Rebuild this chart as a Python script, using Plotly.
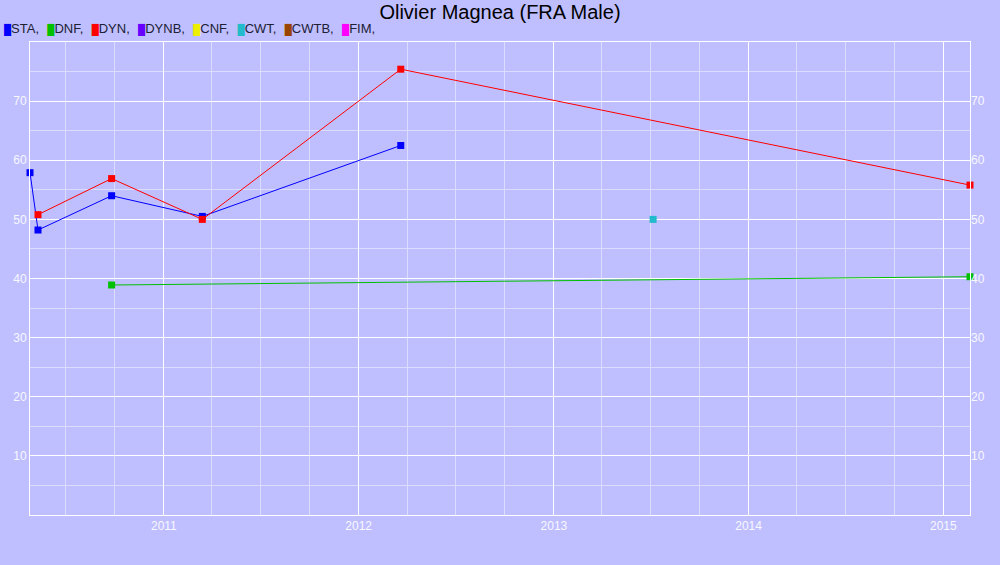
import plotly.graph_objects as go

# Disciplinas del atleta y sus colores
disciplines = ["STA", "DNF", "DYN", "DYNB", "CNF", "CWT", "CWTB", "FIM"]
colors = ["#0000ff", "#00c000", "#ff0000", "#6600ff", "#eeee00", "#22bbcc", "#994400", "#ff00ff"]

sta_dates = ["2010-04-25", "2010-05-10", "2010-09-25", "2011-03-14", "2012-03-20"]
sta_values = [57.9, 48.2, 54.0, 50.5, 62.5]

dnf_dates = ["2010-09-25", "2015-02-20"]
dnf_values = [38.9, 40.3]

dyn_dates = ["2010-05-10", "2010-09-25", "2011-03-14", "2012-03-20", "2015-02-20"]
dyn_values = [50.8, 56.9, 50.0, 75.4, 55.8]

cwt_dates = ["2013-07-06"]
cwt_values = [50.0]

series = {
    "STA": (sta_dates, sta_values),
    "DNF": (dnf_dates, dnf_values),
    "DYN": (dyn_dates, dyn_values),
    "CWT": (cwt_dates, cwt_values),
}

y_ticks = [10, 20, 30, 40, 50, 60, 70]
x_start = "2010-04-25"
x_end = "2015-02-20"

BG = "#bfbfff"
GRID = "#ffffff"
MINOR = "#dcdcff"
FONT = "Liberation Sans, Arial, sans-serif"
TICK = "#f8f8ff"

fig = go.Figure()
for name, color in zip(disciplines, colors):
    if name not in series:
        continue
    x, y = series[name]
    fig.add_trace(go.Scatter(
        x=x, y=y, mode="lines+markers", name=name,
        line=dict(color=color, width=1),
        marker=dict(symbol="square", size=7, color=color),
        cliponaxis=False, showlegend=False, hoverinfo="x+y",
    ))

# traza vacía para el eje derecho
fig.add_trace(go.Scatter(x=[None], y=[None], yaxis="y2", showlegend=False))

# leyenda compacta como texto
legend_txt = "".join(
    f"<span style='color:{c};font-size:10px'>\u2588</span>{n},  \u200a"
    for n, c in zip(disciplines, colors)
)
fig.add_annotation(
    text=legend_txt, xref="paper", yref="paper", x=-0.030, y=1.0,
    yshift=13, xanchor="left", yanchor="middle", showarrow=False,
    font=dict(family=FONT, size=13, color="#202035"),
)

fig.update_layout(
    width=1000, height=565,
    paper_bgcolor=BG, plot_bgcolor=BG,
    margin=dict(l=30, r=30, t=42, b=50),
    title=dict(text="Olivier Magnea (FRA Male)", x=0.5, xanchor="center",
               y=0.979, yanchor="middle",
               font=dict(family=FONT, size=20, color="#000000")),
    font=dict(family=FONT, size=12, color=TICK),
    xaxis=dict(
        type="date", range=[x_start, x_end],
        tick0="2011-01-01", dtick="M12", tickformat="%Y",
        showgrid=True, gridcolor=GRID, gridwidth=1,
        minor=dict(dtick="M3", tick0="2011-01-01", showgrid=True, gridcolor=MINOR),
        showline=True, linecolor=GRID, linewidth=1, mirror=True,
        zeroline=False, ticks="", tickfont=dict(size=12, color=TICK),
    ),
    yaxis=dict(
        range=[0, 80], tickmode="array", tickvals=y_ticks,
        showgrid=True, gridcolor=GRID, gridwidth=1,
        minor=dict(dtick=5, tick0=0, showgrid=True, gridcolor=MINOR),
        showline=True, linecolor=GRID, linewidth=1, mirror=True,
        zeroline=False, ticks="", tickfont=dict(size=12, color=TICK),
    ),
    yaxis2=dict(
        range=[0, 80], tickmode="array", tickvals=y_ticks,
        overlaying="y", side="right", showgrid=False, zeroline=False,
        ticks="", tickfont=dict(size=12, color=TICK),
    ),
)

fig.write_html("out.html", config={"displayModeBar": False},
               post_script="document.body.style.margin='0';")
